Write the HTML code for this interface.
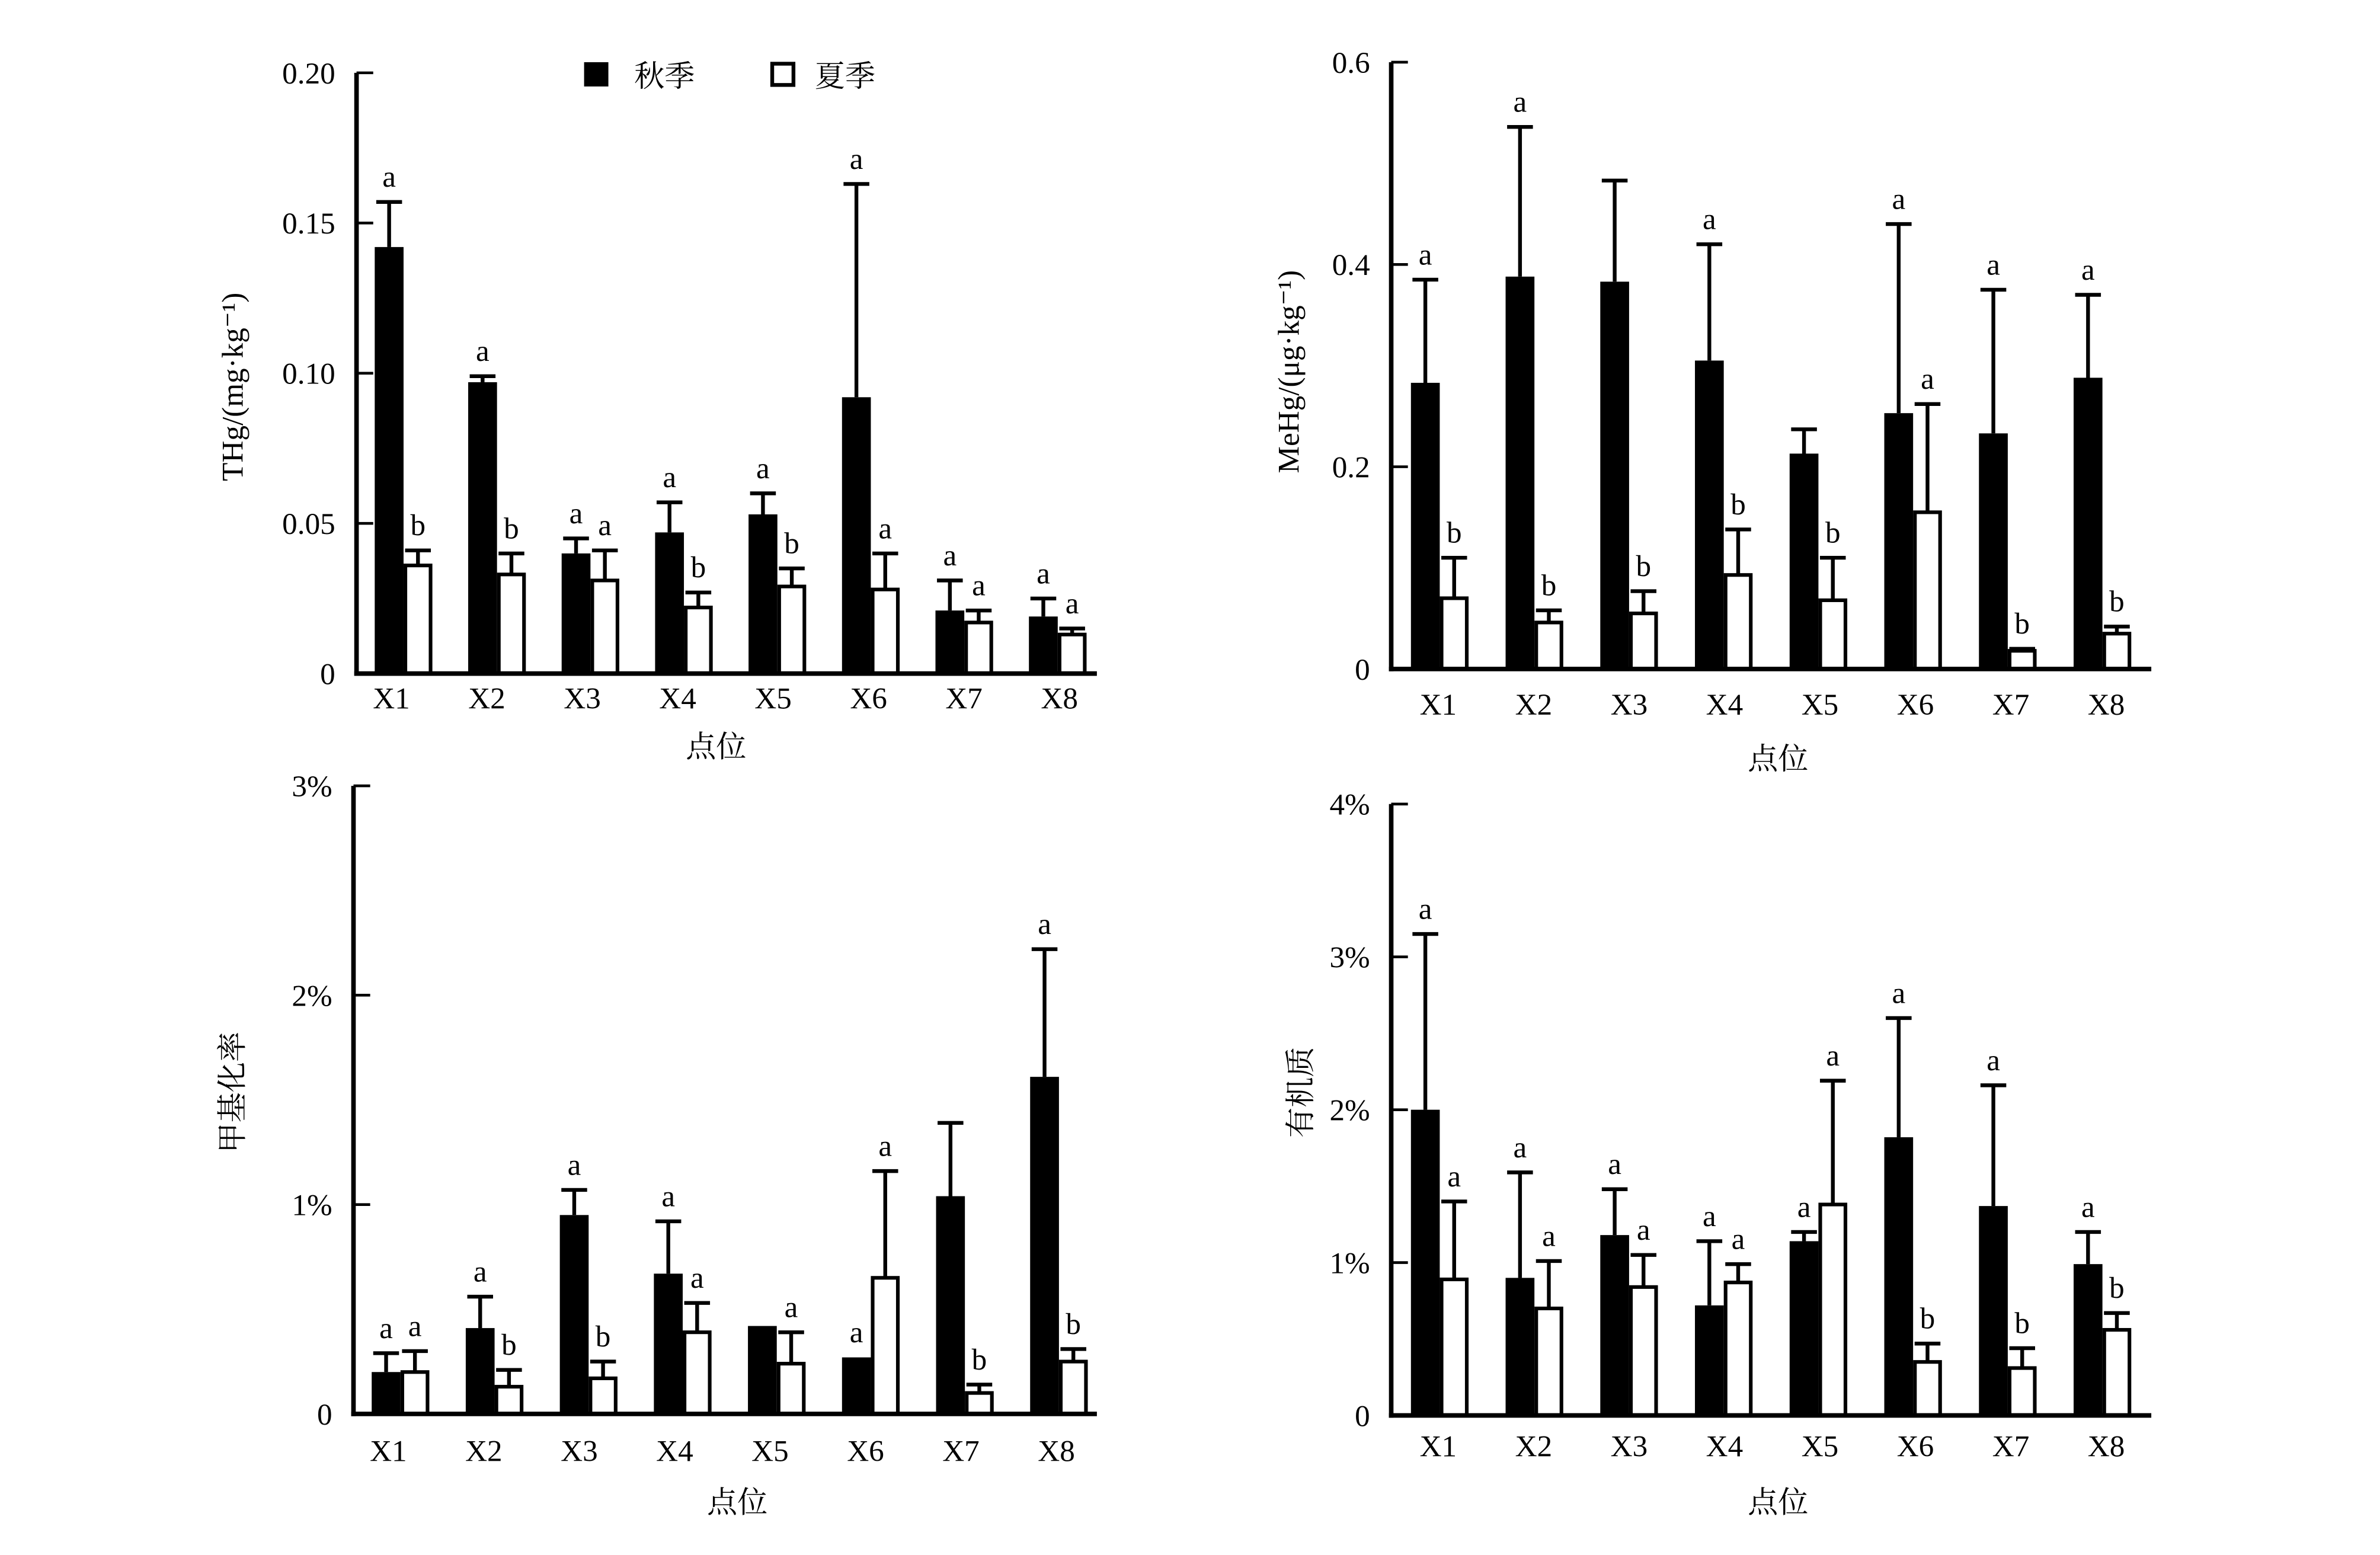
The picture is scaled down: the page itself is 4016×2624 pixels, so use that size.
<!DOCTYPE html>
<html><head><meta charset="utf-8"><style>
html,body{margin:0;padding:0;background:#fff;}
svg{display:block;}
text{font-family:"Liberation Serif","Noto Serif CJK SC",serif;fill:#000;}
</style></head><body>
<svg id="chart" width="4016" height="2624" viewBox="0 0 1568.75 1025" preserveAspectRatio="none" xmlns="http://www.w3.org/2000/svg">
<g>
<rect x="385" y="41" width="16" height="16" fill="#000"/>
<text x="418" y="57" font-size="20">秋季</text>
<rect x="509" y="42" width="14" height="14" fill="#fff" stroke="#000" stroke-width="2.5"/>
<text x="537" y="57" font-size="20">夏季</text>
</g>
</svg>
<script>
const categories = ["X1","X2","X3","X4","X5","X6","X7","X8"];
// Panel 1: THg
const thgAutumn = [0.142,0.097,0.040,0.047,0.053,0.092,0.021,0.019];
const thgAutumnErr = [0.157,0.099,0.045,0.057,0.060,0.163,0.031,0.025];
const thgSummer = [0.036,0.033,0.031,0.022,0.029,0.028,0.017,0.013];
const thgSummerErr = [0.041,0.040,0.041,0.027,0.035,0.040,0.021,0.015];
const thgAutumnLetters = ["a","a","a","a","a","a","a","a"];
const thgSummerLetters = ["b","b","a","b","b","a","a","a"];
const thgTicks = ["0","0.05","0.10","0.15","0.20"];
// Panel 2: MeHg
const mehgAutumn = [0.283,0.388,0.383,0.305,0.213,0.253,0.233,0.288];
const mehgAutumnErr = [0.385,0.536,0.483,0.420,0.237,0.440,0.375,0.370];
const mehgSummer = [0.070,0.046,0.055,0.093,0.068,0.155,0.018,0.035];
const mehgSummerErr = [0.110,0.058,0.077,0.138,0.110,0.262,0.020,0.042];
const mehgAutumnLetters = ["a","a","","a","","a","a","a"];
const mehgSummerLetters = ["b","b","b","b","b","a","b","b"];
const mehgTicks = ["0","0.2","0.4","0.6"];
// Panel 3: methylation rate (%)
const methAutumn = [0.20,0.41,0.95,0.67,0.42,0.27,1.04,1.61];
const methAutumnErr = [0.29,0.56,1.07,0.92,null,null,1.39,2.22];
const methSummer = [0.20,0.13,0.17,0.39,0.24,0.65,0.10,0.25];
const methSummerErr = [0.30,0.21,0.25,0.53,0.39,1.16,0.14,0.31];
const methAutumnLetters = ["a","a","a","a","","a","","a"];
const methSummerLetters = ["a","b","b","a","a","a","b","b"];
const methTicks = ["0","1%","2%","3%"];
// Panel 4: organic matter (%)
const omAutumn = [2.00,0.90,1.18,0.72,1.14,1.82,1.37,0.99];
const omAutumnErr = [3.15,1.59,1.48,1.14,1.20,2.60,2.16,1.20];
const omSummer = [0.89,0.70,0.84,0.87,1.38,0.35,0.31,0.56];
const omSummerErr = [1.40,1.01,1.05,0.99,2.19,0.47,0.44,0.67];
const omAutumnLetters = ["a","a","a","a","a","a","a","a"];
const omSummerLetters = ["a","a","a","a","a","b","b","b"];
const omTicks = ["0","1%","2%","3%","4%"];

const svg = document.getElementById('chart');
const NS = "http://www.w3.org/2000/svg";
function mk(tag, attrs, parent){const e=document.createElementNS(NS,tag);for(const k in attrs)e.setAttribute(k,attrs[k]);(parent||svg).appendChild(e);return e;}

const panels = [
 {name:"thg", x0:235, x1:723, yTop:48, yBot:444, max:0.20, ticks:thgTicks, tickVals:[0,0.05,0.10,0.15,0.20],
  first:247, step:61.6, labelFirst:258, labelStep:62.9, labelY:467, a:thgAutumn, ae:thgAutumnErr, s:thgSummer, se:thgSummerErr, al:thgAutumnLetters, sl:thgSummerLetters,
  ytitle:"THg/(mg·kg⁻¹)", ytx:160, yty:255, xtx:472, xty:499},
 {name:"mehg", x0:917, x1:1418, yTop:41, yBot:441, max:0.6, ticks:mehgTicks, tickVals:[0,0.2,0.4,0.6],
  first:930, step:62.4, labelFirst:948, labelStep:62.9, labelY:471, a:mehgAutumn, ae:mehgAutumnErr, s:mehgSummer, se:mehgSummerErr, al:mehgAutumnLetters, sl:mehgSummerLetters,
  ytitle:"MeHg/(μg·kg⁻¹)", ytx:856, yty:245, xtx:1172, xty:507},
 {name:"methylation", x0:233, x1:723, yTop:518, yBot:932, max:3, ticks:methTicks, tickVals:[0,1,2,3],
  first:245, step:62, labelFirst:256, labelStep:62.9, labelY:963, a:methAutumn, ae:methAutumnErr, s:methSummer, se:methSummerErr, al:methAutumnLetters, sl:methSummerLetters,
  ytitle:"甲基化率", ytx:160, yty:720, xtx:486, xty:997},
 {name:"organic-matter", x0:917, x1:1418, yTop:530, yBot:933, max:4, ticks:omTicks, tickVals:[0,1,2,3,4],
  first:930, step:62.4, labelFirst:948, labelStep:62.9, labelY:960, a:omAutumn, ae:omAutumnErr, s:omSummer, se:omSummerErr, al:omAutumnLetters, sl:omSummerLetters,
  ytitle:"有机质", ytx:864, yty:720, xtx:1172, xty:997}
];
const BW = 19;
panels.forEach(p=>{
  const g = mk('g',{});
  
  
  const y = v => p.yBot - v/p.max*(p.yBot-p.yTop);
  categories.forEach((c,i)=>{
    const xb = p.first + i*p.step, xs = xb + BW;
    const bars = [[xb,p.a[i],p.ae[i],p.al[i],'#000','autumn'],[xs,p.s[i],p.se[i],p.sl[i],'#fff','summer']];
    bars.forEach(([bx,v,e,l,fill,ser])=>{
      if(e!=null){
        const ln = mk('line',{x1:bx+BW/2,x2:bx+BW/2,y1:y(v),y2:y(e),stroke:'#000','stroke-width':2.5},g);
        
        
        const cap = mk('line',{x1:bx+1,x2:bx+BW-1,y1:y(e),y2:y(e),stroke:'#000','stroke-width':2.5},g);
        
        
      }
      const r = mk('rect',{x:bx+(fill==='#fff'?1.2:0),y:y(v),width:BW-(fill==='#fff'?2.4:0),height:p.yBot-y(v),fill:fill,stroke:'#000','stroke-width':fill==='#fff'?2.4:0},g);
      
      
      if(l){
        const top = e!=null?e:v;
        const t = mk('text',{x:bx+BW/2,y:y(top)-10,'font-size':20,'text-anchor':'middle'},g);
        t.textContent=l;
        
        
      }
    });
    const xl = mk('text',{x:p.labelFirst+i*p.labelStep,y:p.labelY,'font-size':20,'text-anchor':'middle'},g);
    xl.textContent=c;
    
    
  });
  const ya = mk('line',{x1:p.x0,x2:p.x0,y1:p.yTop,y2:p.yBot+1.5,stroke:'#000','stroke-width':3},g);
  
  
  const xa = mk('line',{x1:p.x0-1.5,x2:p.x1,y1:p.yBot,y2:p.yBot,stroke:'#000','stroke-width':3},g);
  
  
  p.tickVals.forEach((tv,k)=>{
    const tk = mk('line',{x1:p.x0,x2:p.x0+11,y1:y(tv),y2:y(tv),stroke:'#000','stroke-width':1.8},g);
    
    
    const tl = mk('text',{x:p.x0-14,y:y(tv)+7,'font-size':20,'text-anchor':'end'},g);
    tl.textContent=p.ticks[k];
    
    
  });
  const yt = mk('text',{x:p.ytx,y:p.yty,'font-size':20,'text-anchor':'middle',transform:`rotate(-90 ${p.ytx} ${p.yty})`},g);
  yt.textContent=p.ytitle;
  
  
  const xt = mk('text',{x:p.xtx,y:p.xty,'font-size':20,'text-anchor':'middle'},g);
  xt.textContent='点位';
  
  
});
</script>
</body></html>
